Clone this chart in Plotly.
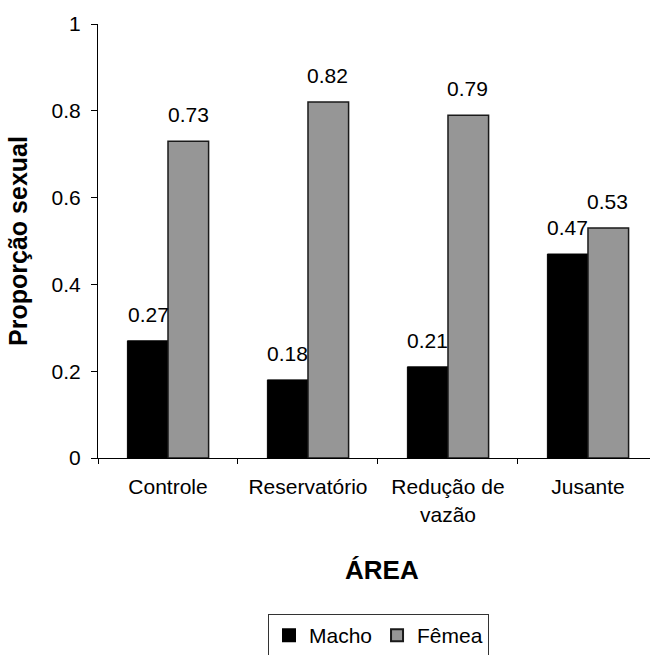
import plotly.graph_objects as go

categories = ["Controle", "Reservatório", "Redução de<br>vazão", "Jusante"]
macho = [0.27, 0.18, 0.21, 0.47]
femea = [0.73, 0.82, 0.79, 0.53]
series_names = ["Macho", "Fêmea"]
y_ticks = [0, 0.2, 0.4, 0.6, 0.8, 1]
y_ticklabels = ["0", "0.2", "0.4", "0.6", "0.8", "1"]

FONT = "Liberation Sans, Arial, sans-serif"
W, H = 650, 655
ML, MR, MT, MB = 98, 0, 24, 197

fig = go.Figure()
fig.add_trace(go.Bar(
    x=categories, y=macho, name=series_names[0],
    marker=dict(color="#000000", line=dict(color="#000000", width=1)),
))
fig.add_trace(go.Bar(
    x=categories, y=femea, name=series_names[1],
    marker=dict(color="#969696", line=dict(color="#1a1a1a", width=1.5)),
))

annotations = []
for i, cat in enumerate(categories):
    for vals, xs in ((macho, -20), (femea, 20)):
        annotations.append(dict(
            x=cat, y=vals[i], xref="x", yref="y", text=f"{vals[i]:.2f}",
            showarrow=False, xanchor="center", yanchor="bottom",
            xshift=xs, yshift=13, font=dict(family=FONT, size=21, color="#000000"),
        ))

# x-axis title "ÁREA"
annotations.append(dict(
    x=(381.5 - ML) / (W - ML - MR), y=(458 - 570) / (458 - MT), xref="paper", yref="paper",
    text="<b>ÁREA</b>", showarrow=False, xanchor="center", yanchor="middle",
    font=dict(family=FONT, size=26, color="#000000"),
))

fig.update_layout(
    width=W, height=H,
    margin=dict(l=ML, r=MR, t=MT, b=MB, autoexpand=False),
    paper_bgcolor="white", plot_bgcolor="white",
    barmode="group", bargap=0.42, bargroupgap=0,
    font=dict(family=FONT, size=21, color="#000000"),
    showlegend=True,
    legend=dict(
        orientation="h", x=(268 - ML) / (W - ML - MR), y=(458 - 614) / (458 - MT),
        xanchor="left", yanchor="top",
        bordercolor="#333333", borderwidth=1, bgcolor="white",
        font=dict(family=FONT, size=21, color="#000000"),
        itemsizing="constant", itemwidth=30,
    ),
    annotations=annotations,
    xaxis=dict(
        range=[-0.5, 3.443], showline=True, linecolor="#000000", linewidth=1,
        ticks="outside", tickson="boundaries", ticklen=5, tickcolor="#000000",
        showgrid=False, zeroline=False, ticklabelstandoff=10,
        tickfont=dict(family=FONT, size=21, color="#000000"),
    ),
    yaxis=dict(
        range=[0, 1], tickvals=y_ticks, ticktext=y_ticklabels,
        showline=True, linecolor="#000000", linewidth=1,
        ticks="outside", ticklen=6, tickcolor="#000000",
        showgrid=False, zeroline=False, ticklabelstandoff=6,
        tickfont=dict(family=FONT, size=21, color="#000000"),
        title=dict(text="<b>Proporção sexual</b>", standoff=16,
                   font=dict(family=FONT, size=25, color="#000000")),
    ),
)

fig.write_html("out.html")
